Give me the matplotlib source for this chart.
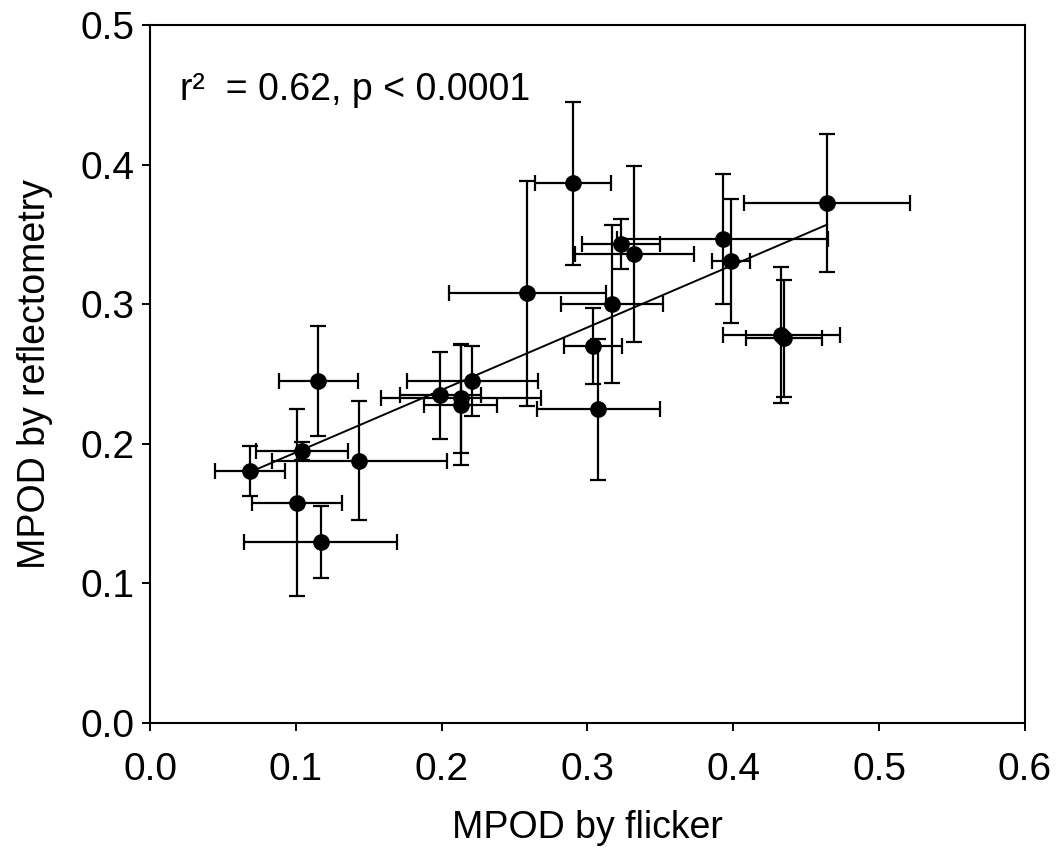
import matplotlib
matplotlib.use("Agg")
import matplotlib.pyplot as plt

plt.rcParams['font.family'] = ['Liberation Sans', 'DejaVu Sans']

# MPOD by flicker (x) and by reflectometry (y), with error bars
flicker = [0.0686, 0.104, 0.1008, 0.1435, 0.117, 0.1155,
           0.290, 0.2588, 0.3228, 0.3322, 0.3171, 0.304, 0.3075,
           0.3927, 0.3983, 0.2211, 0.1989, 0.2131, 0.2131,
           0.4643, 0.433, 0.435]
reflect = [0.1807, 0.195, 0.1578, 0.1877, 0.1297, 0.245,
           0.3866, 0.3077, 0.3428, 0.3357, 0.2999, 0.270, 0.2247,
           0.3467, 0.331, 0.245, 0.2347, 0.2325, 0.2276,
           0.3722, 0.2776, 0.2755]
flicker_err = [0.0243, 0.0315, 0.031, 0.060, 0.0523, 0.027,
               0.026, 0.0537, 0.0269, 0.041, 0.035, 0.020, 0.042,
               0.0723, 0.013, 0.045, 0.0278, 0.055, 0.025,
               0.057, 0.040, 0.026]
reflect_err = [0.018, 0.0065, 0.0668, 0.0426, 0.0256, 0.0394,
               0.0584, 0.0807, 0.0179, 0.063, 0.0567, 0.027, 0.0507,
               0.0468, 0.0446, 0.0253, 0.031, 0.039, 0.043,
               0.0494, 0.0487, 0.042]

# regression line
fit_slope = 0.448
fit_intercept = 0.149
fit_x = [0.0686, 0.4643]

x_ticks = [0.0, 0.1, 0.2, 0.3, 0.4, 0.5, 0.6]
y_ticks = [0.0, 0.1, 0.2, 0.3, 0.4, 0.5]
annotation = "r\u00b2  = 0.62, p < 0.0001"

fig = plt.figure(figsize=(10.64, 8.57), dpi=100)
ax = fig.add_axes([0.141, 0.1564, 0.8223, 0.8144])

ax.errorbar(flicker, reflect, xerr=flicker_err, yerr=reflect_err,
            fmt='o', color='black', ecolor='black', markersize=11,
            elinewidth=1.6, capsize=5.8, capthick=1.6, zorder=3)

fit_y = [fit_slope * v + fit_intercept for v in fit_x]
ax.plot(fit_x, fit_y, color='black', linewidth=1.4, zorder=2)

ax.set_xlim(0, 0.6)
ax.set_ylim(0, 0.5)
ax.set_xticks(x_ticks)
ax.set_yticks(y_ticks)
ax.set_xticklabels([f"{v:.1f}" for v in x_ticks])
ax.set_yticklabels([f"{v:.1f}" for v in y_ticks])
ax.tick_params(direction='out', length=6, width=1.4, labelsize=28)
ax.tick_params(axis='x', pad=15)
ax.tick_params(axis='y', pad=5)
for s in ax.spines.values():
    s.set_linewidth(1.5)

ax.set_xlabel("MPOD by flicker", fontsize=27, labelpad=16)
ax.set_ylabel("MPOD by reflectometry", fontsize=27, labelpad=20)

ax.text(0.0206, 0.446, annotation, fontsize=27, ha='left', va='baseline')

fig.savefig("out.png", dpi=100)
